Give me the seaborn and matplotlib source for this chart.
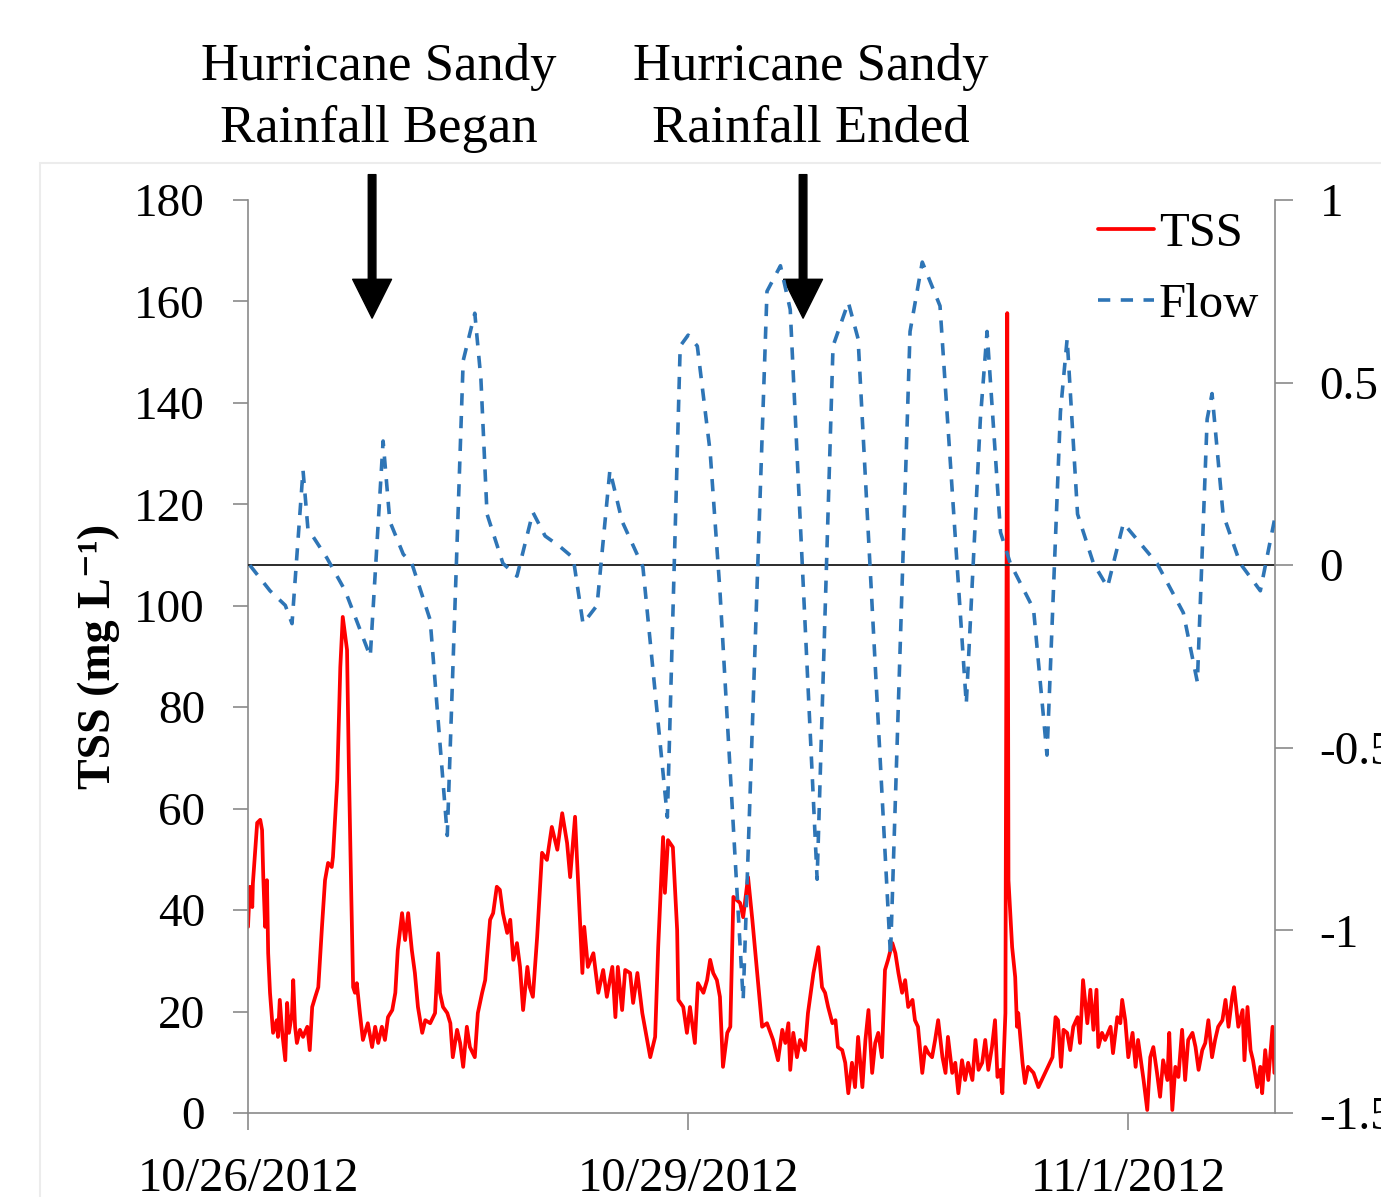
import matplotlib
matplotlib.use("Agg")
import matplotlib.pyplot as plt
import matplotlib.dates as mdates
from matplotlib.patches import Rectangle
import pandas as pd
import seaborn as sns

# ---------------- data (hours since 10/26/2012 00:00, value) ----------------
tss_series = [
    (0.0, 36.7), (0.3, 44.6), (0.7, 40.6), (0.8, 45.3), (1.5, 57.2), (2.0, 57.8), (2.3, 55.8),
    (2.5, 46.5), (2.8, 36.7), (3.1, 45.9), (3.3, 31.5), (3.6, 23.7), (4.1, 15.8), (4.7, 18.3),
    (4.9, 15.0), (5.2, 22.3), (5.6, 15.8), (6.1, 10.4), (6.4, 21.7), (6.7, 15.8), (7.2, 19.7),
    (7.4, 26.2), (7.7, 17.0), (8.0, 13.8), (8.5, 16.4), (9.0, 15.0), (9.7, 17.0), (10.1, 12.4),
    (10.5, 20.9), (11.0, 22.9), (11.5, 24.8), (12.1, 36.7), (12.6, 45.9), (13.1, 49.3),
    (13.7, 48.5), (13.9, 50.5), (14.6, 65.7), (15.1, 87.9), (15.5, 97.8), (16.2, 91.3),
    (16.5, 68.2), (16.9, 42.6), (17.2, 24.8), (17.5, 23.7), (17.8, 25.6), (18.3, 19.7),
    (18.8, 14.4), (19.6, 17.7), (20.3, 13.0), (20.8, 17.0), (21.3, 13.8), (21.9, 17.0),
    (22.4, 14.4), (22.9, 18.9), (23.6, 20.3), (24.1, 23.7), (24.5, 32.1), (25.2, 39.4),
    (25.7, 34.1), (26.2, 39.4), (26.8, 32.1), (27.3, 27.6), (27.8, 20.9), (28.5, 15.8),
    (29.0, 18.3), (29.8, 17.7), (30.6, 19.7), (31.1, 31.5), (31.4, 23.7), (31.9, 20.9),
    (32.6, 19.7), (33.1, 17.7), (33.5, 11.0), (34.2, 16.4), (34.7, 13.8), (35.2, 9.1),
    (35.8, 17.0), (36.3, 13.0), (37.1, 11.0), (37.6, 19.7), (38.3, 23.7), (38.8, 26.2),
    (39.6, 38.1), (40.1, 39.4), (40.7, 44.6), (41.2, 44.0), (41.7, 39.4), (42.4, 35.5),
    (42.9, 38.1), (43.4, 30.2), (44.0, 33.5), (44.5, 28.8), (45.0, 20.3), (45.7, 28.8),
    (46.1, 24.8), (46.6, 22.9), (47.3, 34.7), (48.1, 51.3), (48.9, 49.9), (49.7, 56.4),
    (50.6, 51.9), (51.4, 59.1), (52.2, 53.2), (52.7, 46.5), (53.5, 58.4), (53.8, 50.5),
    (54.3, 38.1), (54.7, 27.6), (55.0, 36.7), (55.6, 28.8), (56.5, 31.5), (57.3, 23.7),
    (58.1, 28.2), (58.7, 22.9), (59.6, 28.8), (60.1, 18.9), (60.5, 28.8), (61.2, 20.3),
    (61.7, 28.2), (62.5, 27.6), (63.0, 21.7), (63.7, 27.6), (64.5, 19.7), (65.3, 14.4),
    (65.8, 11.0), (66.6, 15.0), (67.1, 32.7), (67.9, 54.4), (68.2, 43.4), (68.7, 53.8),
    (69.5, 52.4), (70.2, 36.1), (70.4, 22.3), (71.2, 20.9), (71.8, 15.8), (72.3, 20.9),
    (73.1, 13.8), (73.6, 25.6), (74.5, 23.7), (75.1, 26.2), (75.6, 30.2), (76.1, 27.6),
    (76.7, 26.2), (77.2, 22.9), (77.7, 9.1), (78.4, 15.8), (78.9, 17.0), (79.4, 42.6),
    (80.5, 41.4), (81.0, 38.6), (81.8, 46.5), (82.5, 38.1), (83.3, 27.6), (84.1, 17.0),
    (84.9, 17.7), (85.9, 14.4), (86.7, 10.4), (87.4, 16.4), (87.9, 13.8), (88.4, 17.7),
    (88.7, 8.5), (89.2, 15.8), (89.8, 11.0), (90.3, 14.4), (91.1, 12.4), (91.6, 19.7),
    (92.5, 27.6), (93.3, 32.7), (93.9, 24.8), (94.4, 23.7), (94.9, 20.9), (95.6, 17.7),
    (96.1, 18.3), (96.5, 13.0), (97.2, 12.4), (97.7, 9.9), (98.2, 3.9), (98.8, 9.9),
    (99.3, 5.1), (99.8, 15.0), (100.5, 5.1), (101.0, 14.4), (101.5, 20.3), (102.1, 7.9),
    (102.6, 13.8), (103.1, 15.8), (103.7, 11.0), (104.2, 28.2), (104.7, 30.2), (105.4, 33.5),
    (105.9, 31.5), (106.4, 27.6), (107.0, 23.7), (107.5, 26.2), (108.0, 20.9), (108.7, 22.3),
    (109.1, 18.3), (109.6, 17.0), (110.3, 7.9), (110.8, 13.0), (111.3, 11.8), (111.9, 11.0),
    (112.4, 14.4), (112.9, 18.3), (113.6, 11.0), (114.1, 7.9), (114.5, 15.0), (115.2, 7.9),
    (115.7, 9.9), (116.2, 3.9), (116.8, 10.4), (117.3, 6.5), (117.8, 9.9), (118.5, 6.5),
    (119.0, 14.4), (119.5, 8.5), (120.1, 9.9), (120.6, 14.4), (121.1, 8.5), (121.7, 13.0),
    (122.2, 18.3), (122.6, 7.1), (123.1, 8.5), (123.4, 3.9), (123.9, 19.7), (124.2, 157.7),
    (124.4, 45.9), (125.0, 32.7), (125.5, 26.8), (125.8, 17.0), (126.0, 19.7), (126.7, 9.9),
    (127.1, 5.9), (127.6, 9.1), (128.5, 7.9), (129.3, 5.1), (130.4, 7.9), (131.6, 11.0),
    (132.1, 18.9), (132.5, 18.3), (133.0, 9.1), (133.4, 16.4), (134.0, 15.8), (134.5, 12.4),
    (135.0, 17.0), (135.7, 18.9), (136.1, 13.8), (136.6, 26.2), (137.3, 17.7), (137.8, 24.3),
    (138.3, 16.4), (138.8, 24.3), (139.1, 13.0), (139.7, 15.8), (140.2, 14.4), (141.1, 17.0),
    (141.5, 11.8), (142.2, 18.9), (142.7, 17.7), (143.0, 22.3), (143.5, 18.3), (144.0, 11.0),
    (144.7, 15.8), (145.2, 9.1), (145.6, 14.4), (146.5, 6.5), (147.1, 0.6), (147.6, 11.0),
    (148.1, 13.0), (148.7, 7.9), (149.2, 3.2), (149.7, 10.4), (150.4, 6.5), (150.7, 15.8),
    (151.2, 0.6), (151.7, 9.1), (152.2, 7.1), (152.8, 16.4), (153.3, 6.5), (153.8, 14.4),
    (154.5, 15.8), (155.0, 13.0), (155.5, 8.5), (156.1, 12.4), (156.6, 13.8), (157.1, 18.3),
    (157.7, 11.0), (158.2, 14.4), (158.7, 17.0), (159.4, 18.3), (159.9, 22.3), (160.4, 17.0),
    (161.0, 22.9), (161.3, 24.8), (162.0, 17.0), (162.7, 20.3), (163.0, 10.4), (163.5, 20.9),
    (164.0, 12.4), (164.4, 10.4), (165.1, 5.1), (165.6, 9.1), (165.9, 3.9), (166.4, 12.4),
    (166.9, 6.5), (167.6, 17.0), (167.9, 7.9),
]

flow_series = [
    (0.3, 0.0), (3.6, -0.07), (6.1, -0.11), (7.2, -0.16), (9.0, 0.26), (9.8, 0.10),
    (12.9, 0.02), (15.9, -0.07), (20.0, -0.25), (22.1, 0.34), (23.2, 0.12), (25.4, 0.03),
    (26.8, 0.005), (29.8, -0.15), (32.6, -0.74), (35.2, 0.56), (37.1, 0.69), (38.1, 0.51),
    (39.1, 0.14), (41.7, 0.005), (44.0, -0.03), (46.6, 0.145), (48.6, 0.08), (51.1, 0.05),
    (53.2, 0.02), (54.8, -0.16), (57.1, -0.11), (59.2, 0.26), (61.2, 0.12), (64.6, -0.005),
    (68.6, -0.69), (70.7, 0.60), (72.0, 0.63), (73.5, 0.60), (75.6, 0.31), (77.2, -0.07),
    (81.0, -1.19), (84.9, 0.75), (87.1, 0.82), (88.7, 0.70), (93.1, -0.86), (95.7, 0.60),
    (98.2, 0.72), (99.8, 0.62), (105.1, -1.07), (108.3, 0.64), (110.3, 0.83), (113.2, 0.71),
    (117.5, -0.38), (119.8, 0.40), (120.9, 0.64), (123.1, 0.09), (124.7, 0.005),
    (128.5, -0.12), (130.7, -0.52), (132.9, 0.42), (134.0, 0.62), (135.7, 0.14),
    (138.3, 0.005), (140.6, -0.06), (143.2, 0.115), (148.7, 0.005), (153.0, -0.13),
    (155.3, -0.32), (156.9, 0.40), (157.7, 0.47), (159.5, 0.14), (162.3, 0.005),
    (165.6, -0.07), (168.1, 0.14),
]

start_date = "2012-10-26"
x_tick_days = [0, 3, 6]
x_tick_labels = ["10/26/2012", "10/29/2012", "11/1/2012"]
left_ticks = [0, 20, 40, 60, 80, 100, 120, 140, 160, 180]
right_ticks = [1, 0.5, 0, -0.5, -1, -1.5]
right_tick_labels = ["1", "0.5", "0", "-0.5", "-1", "-1.5"]
arrow_hours = [20.3, 90.8]
annotation_lines = [("Hurricane Sandy", "Rainfall Began"), ("Hurricane Sandy", "Rainfall Ended")]

# ---------------- frames ----------------
t0 = pd.Timestamp(start_date)
tss_df = pd.DataFrame(tss_series, columns=["hours", "TSS"])
tss_df["time"] = t0 + pd.to_timedelta(tss_df["hours"], unit="h")
flow_df = pd.DataFrame(flow_series, columns=["hours", "Flow"])
flow_df["time"] = t0 + pd.to_timedelta(flow_df["hours"], unit="h")

# ---------------- style ----------------
sns.set_theme(style="white")
plt.rcParams["font.family"] = ["Liberation Serif", "DejaVu Serif"]
plt.rcParams["axes.unicode_minus"] = False
plt.rcParams["text.color"] = "black"
plt.rcParams["axes.labelcolor"] = "black"
plt.rcParams["xtick.color"] = "black"
plt.rcParams["ytick.color"] = "black"

SPINE = "#8a8a8a"
RED = "#ff0000"
BLUE = "#2e75b6"

fig = plt.figure(figsize=(13.81, 11.97), dpi=100)
fig.patch.set_facecolor("white")
fig.add_artist(Rectangle((40 / 1381, -0.01), 1.0, 1 - 163 / 1197 + 0.01,
                         transform=fig.transFigure, fill=False,
                         edgecolor="#ececec", lw=1.5))

ax = fig.add_axes([248 / 1381, 1 - 1113 / 1197, (1275 - 248) / 1381, 913 / 1197])
ax2 = ax.twinx()
ax.set_zorder(1)
ax2.set_zorder(2)
ax.patch.set_visible(False)
ax2.patch.set_visible(False)

sns.lineplot(data=tss_df, x="time", y="TSS", ax=ax, color=RED, linewidth=2.7,
             legend=False, estimator=None)
tss_line = ax.lines[-1]

ax2.axhline(0, color="#2b2b2b", lw=1.4, zorder=1)
sns.lineplot(data=flow_df, x="time", y="Flow", ax=ax2, color=BLUE, linewidth=2.6,
             legend=False, estimator=None)
flow_line = ax2.lines[-1]
flow_line.set_dashes([3.4, 2.9])
flow_line.set_zorder(3)

# axes limits / ticks
x0 = mdates.date2num(t0)
ax.set_xlim(x0, x0 + 7)
ax.set_xticks([x0 + d for d in x_tick_days])
ax.set_xticklabels(x_tick_labels)
ax.set_ylim(0, 180)
ax.set_yticks(left_ticks)
ax.set_yticklabels([str(v) for v in left_ticks])
ax2.set_ylim(-1.5, 1)
ax2.set_yticks(right_ticks)
ax2.set_yticklabels(right_tick_labels)

ax.set_xlabel("")
ax.set_ylabel("TSS (mg L\u207b\u00b9)", fontsize=33, fontweight="bold", labelpad=10)
ax2.set_ylabel("")

for s in ["top", "right"]:
    ax.spines[s].set_visible(False)
for s in ["left", "bottom"]:
    ax.spines[s].set_color(SPINE)
    ax.spines[s].set_linewidth(1.2)
for s in ["top", "left", "bottom"]:
    ax2.spines[s].set_visible(False)
ax2.spines["right"].set_color(SPINE)
ax2.spines["right"].set_linewidth(1.2)

ax.tick_params(axis="y", left=True, direction="out", length=11, width=1.2,
               color=SPINE, pad=20, labelsize=34, labelcolor="black")
ax.tick_params(axis="x", bottom=True, direction="out", length=12, width=1.2,
               color=SPINE, pad=20, labelsize=35, labelcolor="black")
ax2.tick_params(axis="y", right=True, direction="out", length=13, width=1.2,
                color=SPINE, pad=19, labelsize=34, labelcolor="black")

# legend
leg = ax2.legend([tss_line, flow_line], ["TSS", "Flow"], loc="upper left",
                 bbox_to_anchor=((1098 - 248) / 1027, (1113 - 212) / 913),
                 frameon=False, fontsize=35, handlelength=1.15, handletextpad=0.1,
                 labelspacing=0.55, borderpad=0, borderaxespad=0)
for t in leg.get_texts():
    t.set_color("black")

# arrows
for h in arrow_hours:
    xh = x0 + h / 24
    ax.annotate("", xy=(xh, 156.7), xytext=(xh, 185.0), xycoords="data",
                textcoords="data", annotation_clip=False,
                arrowprops=dict(facecolor="black", edgecolor="black", width=5.5,
                                headwidth=28, headlength=28, shrink=0))

# annotation texts
centers = [379 / 1381, 811 / 1381]
for cx, (l1, l2) in zip(centers, annotation_lines):
    fig.text(cx, 1 - 80 / 1197, l1, ha="center", va="baseline", fontsize=38, color="black")
    fig.text(cx, 1 - 142 / 1197, l2, ha="center", va="baseline", fontsize=38, color="black")

fig.savefig("out.png", dpi=100, facecolor="white")
